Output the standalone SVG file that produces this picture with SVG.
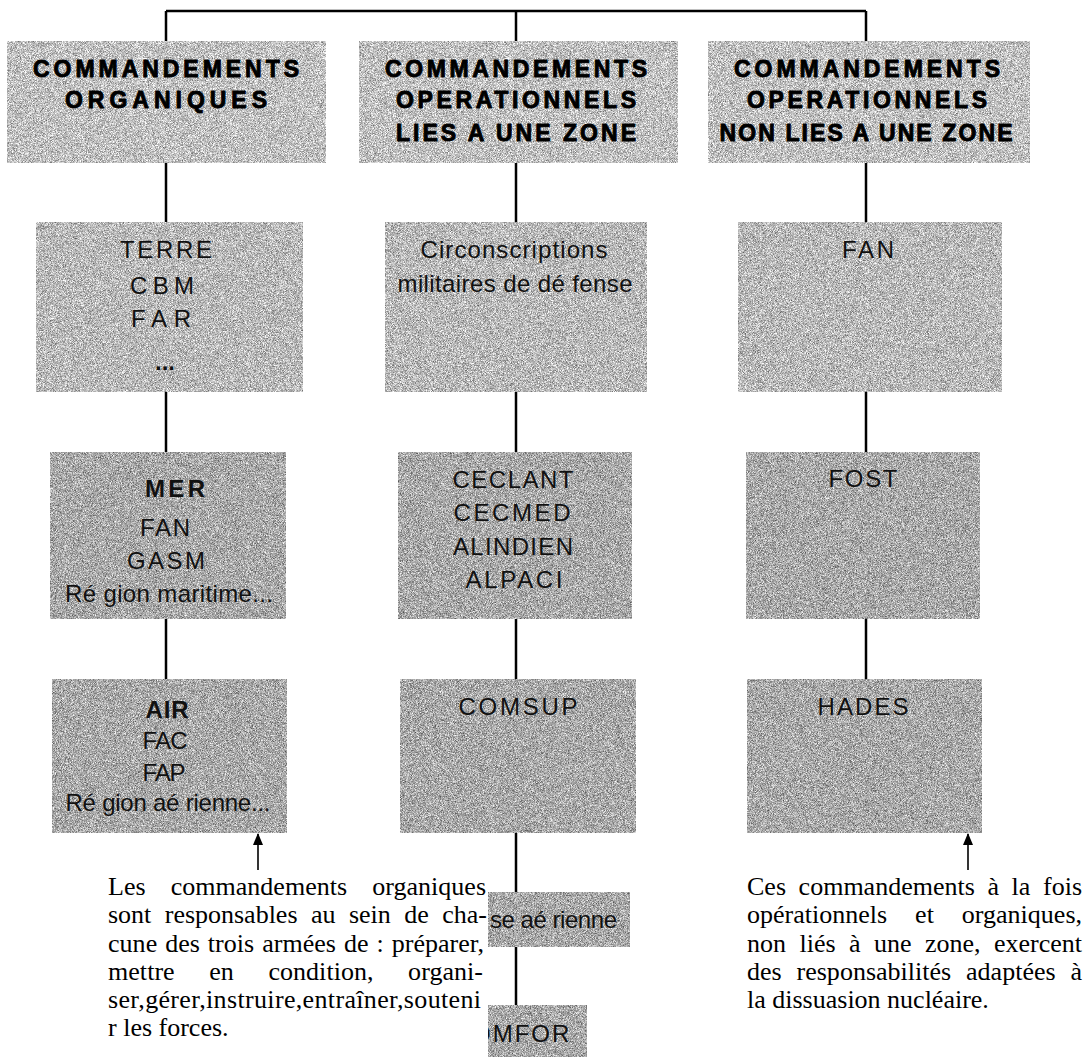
<svg xmlns="http://www.w3.org/2000/svg" width="1083" height="1057" viewBox="0 0 1083 1057">
<defs>
<filter id="grain" x="0" y="0" width="100%" height="100%" color-interpolation-filters="sRGB">
<feTurbulence type="fractalNoise" baseFrequency="1.4" numOctaves="2" seed="5" result="t"/>
<feColorMatrix in="t" type="matrix" values="1 0 0 0 0  1 0 0 0 0  1 0 0 0 0  0 0 0 0 1" result="g"/>
<feComposite in="SourceGraphic" in2="g" operator="arithmetic" k1="0" k2="1" k3="1.0" k4="-0.5" result="m"/>
<feComposite in="m" in2="SourceGraphic" operator="in"/>
</filter>
<marker id="arrow" viewBox="0 0 12 10" refX="11" refY="5" markerWidth="12" markerHeight="10" markerUnits="userSpaceOnUse" orient="auto">
<path d="M0,0 L12,5 L0,10 Z" fill="#000"/>
</marker>
<clipPath id="clipMfor"><rect x="488" y="1005" width="99" height="52"/></clipPath>
</defs>
<style>
.hdr{fill:#c0c0c0;filter:url(#grain)}
.lt{fill:#b9b9b9;filter:url(#grain)}
.dk{fill:#a9a9a9;filter:url(#grain)}
.h{font-family:"Liberation Sans",Arial,sans-serif;font-weight:bold;font-size:23px;fill:#000;text-anchor:middle;stroke:#000;stroke-width:0.9px;stroke-linejoin:round}
.t{font-family:"Liberation Sans",Arial,sans-serif;font-size:24px;fill:#111;text-anchor:middle}
.tb{font-family:"Liberation Sans",Arial,sans-serif;font-size:24px;font-weight:bold;fill:#111;text-anchor:middle}
.p{font-family:"Liberation Serif","Times New Roman",serif;font-size:26px;fill:#000}
.ln{stroke:#000;stroke-width:2.5;fill:none}
.ar{stroke:#000;stroke-width:1.6;fill:none}
</style>
<rect width="1083" height="1057" fill="#fff"/>

<g id="connectors">
<path class="ln" d="M166,11 H866 M166,11 V41 M516,11 V41 M866,11 V41"/>
<path class="ln" d="M166,163 V222 M516,163 V222 M866,163 V222"/>
<path class="ln" d="M166,392 V452 M516,392 V452 M866,392 V452"/>
<path class="ln" d="M166,619 V679 M516,619 V679 M866,619 V679"/>
<path class="ln" d="M516,833 V892 M516,947 V1005"/>
<line class="ar" x1="258" y1="870" x2="258" y2="834" marker-end="url(#arrow)"/>
<line class="ar" x1="968" y1="870" x2="968" y2="834" marker-end="url(#arrow)"/>
</g>

<g id="h-organiques">
<rect class="hdr" x="7" y="41" width="319" height="122"/>
<text class="h" x="166" y="77" textLength="266" lengthAdjust="spacing">COMMANDEMENTS</text>
<text class="h" x="166" y="108" textLength="202" lengthAdjust="spacing">ORGANIQUES</text>
</g>
<g id="h-operationnels-zone">
<rect class="hdr" x="359" y="41" width="319" height="122"/>
<text class="h" x="516" y="77" textLength="262" lengthAdjust="spacing">COMMANDEMENTS</text>
<text class="h" x="516" y="108" textLength="240" lengthAdjust="spacing">OPERATIONNELS</text>
<text class="h" x="516" y="141" textLength="240" lengthAdjust="spacing">LIES A UNE ZONE</text>
</g>
<g id="h-operationnels-nonzone">
<rect class="hdr" x="708" y="41" width="322" height="122"/>
<text class="h" x="867" y="77" textLength="266" lengthAdjust="spacing">COMMANDEMENTS</text>
<text class="h" x="867" y="108" textLength="240" lengthAdjust="spacing">OPERATIONNELS</text>
<text class="h" x="866" y="141" textLength="293" lengthAdjust="spacing">NON LIES A UNE ZONE</text>
</g>

<g id="n-terre">
<rect class="lt" x="36" y="222" width="267" height="170"/>
<text class="t" x="166" y="258" font-size="26" textLength="92" lengthAdjust="spacing">TERRE</text>
<text class="t" x="162" y="294" font-size="26" textLength="64" lengthAdjust="spacing">CBM</text>
<text class="t" x="161" y="327" font-size="26" textLength="60" lengthAdjust="spacing">FAR</text>
<text class="tb" x="165" y="370" font-size="26">...</text>
</g>
<g id="n-circonscriptions">
<rect class="lt" x="385" y="222" width="262" height="170"/>
<text class="t" x="514" y="258" textLength="187" lengthAdjust="spacing">Circonscriptions</text>
<text class="t" x="515" y="292" textLength="235" lengthAdjust="spacing">militaires de dé fense</text>
</g>
<g id="n-fan">
<rect class="lt" x="738" y="222" width="264" height="170"/>
<text class="t" x="868" y="258" textLength="52" lengthAdjust="spacing">FAN</text>
</g>

<g id="n-mer">
<rect class="dk" x="50" y="452" width="236" height="167"/>
<text class="tb" x="175" y="497" textLength="60" lengthAdjust="spacing">MER</text>
<text class="t" x="165" y="536" textLength="50" lengthAdjust="spacing">FAN</text>
<text class="t" x="166" y="569" textLength="78" lengthAdjust="spacing">GASM</text>
<text class="t" x="169" y="602" textLength="208" lengthAdjust="spacing">Ré gion maritime...</text>
</g>
<g id="n-ceclant">
<rect class="dk" x="398" y="452" width="234" height="167"/>
<text class="t" x="513" y="488" textLength="121" lengthAdjust="spacing">CECLANT</text>
<text class="t" x="512" y="521" textLength="117" lengthAdjust="spacing">CECMED</text>
<text class="t" x="513" y="555" textLength="120" lengthAdjust="spacing">ALINDIEN</text>
<text class="t" x="514" y="588" textLength="97" lengthAdjust="spacing">ALPACI</text>
</g>
<g id="n-fost">
<rect class="dk" x="746" y="452" width="234" height="167"/>
<text class="t" x="863" y="487" textLength="69" lengthAdjust="spacing">FOST</text>
</g>

<g id="n-air">
<rect class="dk" x="52" y="679" width="235" height="154"/>
<text class="tb" x="167" y="718" textLength="43" lengthAdjust="spacing">AIR</text>
<text class="t" x="165" y="749" textLength="45" lengthAdjust="spacing">FAC</text>
<text class="t" x="164" y="781" textLength="43" lengthAdjust="spacing">FAP</text>
<text class="t" x="168" y="811" textLength="205" lengthAdjust="spacing">Ré gion aé rienne...</text>
</g>
<g id="n-comsup">
<rect class="dk" x="400" y="679" width="236" height="154"/>
<text class="t" x="518" y="715" textLength="119" lengthAdjust="spacing">COMSUP</text>
</g>
<g id="n-hades">
<rect class="dk" x="747" y="679" width="235" height="154"/>
<text class="t" x="863" y="715" textLength="91" lengthAdjust="spacing">HADES</text>
</g>

<g id="n-aerienne">
<rect class="dk" x="488" y="892" width="142" height="55"/>
<text class="t" x="490" y="928" style="text-anchor:start" textLength="127" lengthAdjust="spacing">se aé rienne</text>
</g>
<g id="n-comfor" clip-path="url(#clipMfor)">
<rect class="dk" x="488" y="1005" width="99" height="52"/>
<text class="t" x="472" y="1042" style="text-anchor:start" letter-spacing="2">OMFOR</text>
</g>

<g id="note-organiques">
<text class="p" x="108" y="895" word-spacing="18.5" textLength="378" lengthAdjust="spacing">Les commandements organiques</text>
<text class="p" x="108" y="923" word-spacing="7" textLength="379" lengthAdjust="spacing">sont responsables au sein de cha-</text>
<text class="p" x="108" y="952" word-spacing="1.4" textLength="376" lengthAdjust="spacing">cune des trois armées de : préparer,</text>
<text class="p" x="108" y="980" word-spacing="28" textLength="375" lengthAdjust="spacing">mettre en condition, organi-</text>
<text class="p" x="108" y="1008" textLength="373" lengthAdjust="spacing">ser,gérer,instruire,entraîner,souteni</text>
<text class="p" x="108" y="1036">r les forces.</text>
</g>
<g id="note-dissuasion">
<text class="p" x="747" y="895" word-spacing="6.1" textLength="335" lengthAdjust="spacing">Ces commandements à la fois</text>
<text class="p" x="747" y="923" word-spacing="21.5" textLength="335" lengthAdjust="spacing">opérationnels et organiques,</text>
<text class="p" x="747" y="952" word-spacing="7" textLength="335" lengthAdjust="spacing">non liés à une zone, exercent</text>
<text class="p" x="747" y="980" word-spacing="8.3" textLength="335" lengthAdjust="spacing">des responsabilités adaptées à</text>
<text class="p" x="747" y="1008">la dissuasion nucléaire.</text>
</g>
</svg>
